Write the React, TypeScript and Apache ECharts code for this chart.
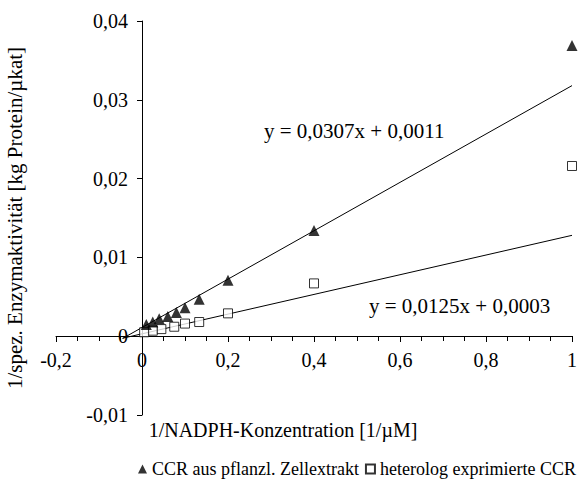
import React, { useEffect, useRef } from "react";
import * as echarts from "echarts";

// Triangles: CCR aus pflanzl. Zellextrakt
const ccrPlantX = [1, 0.4, 0.2, 0.133, 0.1, 0.08, 0.06, 0.04, 0.025, 0.01];
const ccrPlantY = [0.0369, 0.0134, 0.0071, 0.0047, 0.0036, 0.003, 0.0025, 0.0022, 0.0018, 0.0015];
// Squares: heterolog exprimierte CCR
const ccrHetX = [1, 0.4, 0.2, 0.133, 0.1, 0.075, 0.045, 0.025, 0.005];
const ccrHetY = [0.0216, 0.0067, 0.0029, 0.0018, 0.0016, 0.0012, 0.0009, 0.0007, 0.0005];
// Trend line end points (read from the equations shown)
const trendPlant = [[-0.045, -0.00028], [1, 0.0318]];
const trendHet = [[-0.045, -0.00026], [1, 0.0128]];
const eqPlant = "y = 0,0307x + 0,0011";
const eqHet = "y = 0,0125x + 0,0003";
const seriesNames = ["CCR aus pflanzl. Zellextrakt", "heterolog exprimierte CCR"];
const xName = "1/NADPH-Konzentration [1/\u00b5M]";
const yName = "1/spez. Enzymaktivit\u00e4t [kg Protein/\u00b5kat]";

const FONT = "Liberation Serif";

const fmt = (v: number) => {
  const r = Math.round(v * 1000) / 1000;
  return String(r).replace(".", ",");
};

export default function App() {
  const ref = useRef<HTMLDivElement>(null);
  useEffect(() => {
    document.body.style.margin = "0";
    if (!ref.current) return;
    const chart = echarts.init(ref.current, null, { renderer: "svg" });
    const axisText = { fontFamily: FONT, fontSize: 20, color: "#000" };
    chart.setOption({
      animation: false,
      backgroundColor: "#fff",
      grid: { left: 56, right: 12, top: 21, bottom: 68, containLabel: false, outerBoundsMode: "none" },
      xAxis: {
        type: "value",
        position: "bottom",
        offset: -79,
        min: -0.2,
        max: 1,
        interval: 0.2,
        name: xName,
        nameLocation: "middle",
        nameGap: 84,
        nameTextStyle: { ...axisText, padding: [0, 62, 0, 0] },
        axisLine: { onZero: false, lineStyle: { color: "#000", width: 1 } },
        axisTick: { show: true, length: 6, lineStyle: { color: "#000" } },
        minorTick: { show: true, splitNumber: 4, length: 5, lineStyle: { color: "#000" } },
        splitLine: { show: false },
        axisLabel: { ...axisText, margin: 14, formatter: (v: number) => fmt(v) },
      },
      yAxis: {
        type: "value",
        position: "left",
        offset: -86,
        min: -0.01,
        max: 0.04,
        interval: 0.01,
        name: yName,
        nameLocation: "middle",
        nameRotate: 90,
        nameGap: 117,
        nameTextStyle: { ...axisText, fontSize: 21 },
        axisLine: { onZero: false, lineStyle: { color: "#000", width: 1 } },
        axisTick: { show: true, length: 5, lineStyle: { color: "#000" } },
        splitLine: { show: false },
        axisLabel: { ...axisText, margin: 14, formatter: (v: number) => fmt(v) },
      },
      legend: {
        left: 138,
        top: 460,
        width: 446,
        padding: 0,
        itemWidth: 9,
        itemHeight: 9,
        itemGap: 6,
        textStyle: { fontFamily: FONT, fontSize: 18, color: "#000" },
        data: [
          { name: seriesNames[0], icon: "triangle" },
          { name: seriesNames[1], icon: "rect" },
        ],
      },
      graphic: [
        { type: "text", left: 264, top: 120, style: { text: eqPlant, font: `21px '${FONT}'`, fill: "#000" } },
        { type: "text", left: 369, top: 295, style: { text: eqHet, font: `21px '${FONT}'`, fill: "#000" } },
      ],
      series: [
        {
          type: "line",
          data: trendPlant,
          symbol: "none",
          silent: true,
          lineStyle: { color: "#000", width: 1 },
          z: 1,
        },
        {
          type: "line",
          data: trendHet,
          symbol: "none",
          silent: true,
          lineStyle: { color: "#000", width: 1 },
          z: 1,
        },
        {
          name: seriesNames[0],
          type: "scatter",
          symbol: "triangle",
          symbolSize: 11,
          itemStyle: { color: "#000" },
          data: ccrPlantX.map((x, i) => [x, ccrPlantY[i]]),
          z: 3,
        },
        {
          name: seriesNames[1],
          type: "scatter",
          symbol: "rect",
          symbolSize: 9,
          itemStyle: { color: "#fff", borderColor: "#000", borderWidth: 1 },
          data: ccrHetX.map((x, i) => [x, ccrHetY[i]]),
          z: 2,
        },
      ],
    });
    return () => chart.dispose();
  }, []);
  return <div ref={ref} style={{ width: 584, height: 483 }} />;
}
